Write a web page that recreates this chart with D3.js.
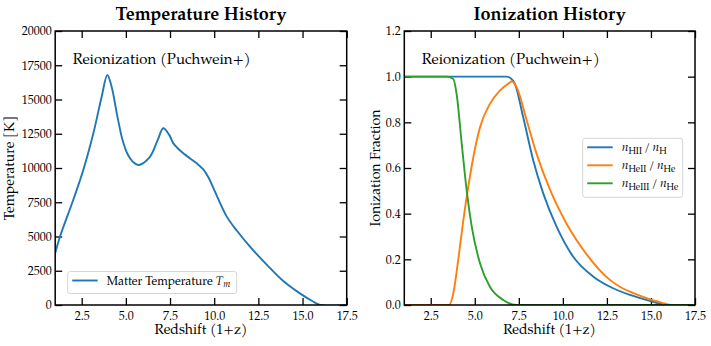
<!DOCTYPE html>
<html>
<head>
<meta charset="utf-8">
<script src="https://cdn.jsdelivr.net/npm/d3@7"></script>
<style>
  body { margin: 0; background: #fff; }
  svg { display: block; }
  text { font-family: "Palatino Linotype", Palatino, "TeX Gyre Pagella", "Liberation Serif", serif; fill: #000; }
  .tick line { stroke: #000; stroke-width: 1.3; }
</style>
</head>
<body>
<script>
const w = 711;
const h = 346;

// temperature history (redshift, kelvin)
const tempZ = [1.0, 1.27, 2.02, 2.59, 3.16, 3.63, 3.95, 4.2, 4.5, 4.8, 5.1, 5.4, 5.70, 6.36, 6.8, 7.12, 7.46, 7.69, 8.25, 9.01, 9.38, 9.7, 9.95, 10.71, 11.3, 12.0, 12.97, 13.91, 14.85, 15.5, 16.0, 17.5];
const tempT = [3800, 4985, 7660, 9850, 12530, 15200, 16790, 15900, 13900, 12100, 11000, 10450, 10220, 10820, 12040, 12900, 12400, 11800, 11070, 10340, 9900, 9250, 8550, 6450, 5400, 4300, 2950, 1750, 850, 330, 0, 0];

// ionization fractions
const hiiZ = [1.0, 6.8, 7.0, 7.28, 7.75, 8.32, 8.89, 9.65, 10.59, 11.73, 12.67, 13.81, 15.13, 15.9, 17.5];
const hiiF = [1.0, 1.0, 0.995, 0.968, 0.822, 0.633, 0.488, 0.342, 0.211, 0.124, 0.080, 0.044, 0.014, 0.0, 0.0];

const heiiZ = [1.0, 3.55, 3.78, 4.06, 4.35, 4.63, 4.92, 5.30, 5.86, 6.43, 7.0, 7.09, 7.38, 7.95, 8.51, 9.27, 10.22, 11.35, 12.67, 13.24, 14.0, 14.56, 15.2, 15.9, 16.1, 17.5];
const heiiF = [0.0, 0.0, 0.051, 0.197, 0.371, 0.517, 0.648, 0.779, 0.881, 0.939, 0.975, 0.98, 0.953, 0.808, 0.662, 0.505, 0.355, 0.222, 0.110, 0.080, 0.052, 0.036, 0.019, 0.004, 0.0, 0.0];

const heiiiZ = [1.0, 3.41, 3.78, 3.97, 4.26, 4.54, 4.83, 5.30, 5.86, 6.62, 7.38, 17.5];
const heiiiF = [1.0, 1.0, 0.99, 0.924, 0.706, 0.502, 0.342, 0.182, 0.080, 0.022, 0.0, 0.0];

const xTicks = [2.5, 5.0, 7.5, 10.0, 12.5, 15.0, 17.5];
const tempTicks = [0, 2500, 5000, 7500, 10000, 12500, 15000, 17500, 20000];
const ionTicks = [0.0, 0.2, 0.4, 0.6, 0.8, 1.0, 1.2];

const colors = ["#1f77b4", "#ff7f0e", "#2ca02c"];

const svg = d3.select("body").append("svg").attr("width", w).attr("height", h);

const plotTop = 31;
const plotBottom = 305;
const tickLen = 7;

function drawPanel(opt) {
  const xScale = d3.scaleLinear().domain([1, 17.5]).range([opt.left, opt.right]);
  const yScale = d3.scaleLinear().domain(opt.yDomain).range([plotBottom, plotTop]);
  const g = svg.append("g");

  const clipId = "clip-" + opt.id;
  g.append("clipPath").attr("id", clipId)
    .append("rect")
    .attr("x", opt.left).attr("y", plotTop - 2)
    .attr("width", opt.right - opt.left).attr("height", plotBottom - plotTop + 2);

  // axes with inward ticks
  const xAxis = d3.axisBottom(xScale).tickValues(xTicks).tickFormat(d3.format(".1f"))
    .tickSize(-tickLen).tickPadding(6);
  g.append("g").attr("transform", "translate(0," + plotBottom + ")").call(xAxis)
    .call(a => a.select(".domain").remove())
    .selectAll("text").style("font-size", "12px");

  g.append("g").attr("transform", "translate(0," + plotTop + ")")
    .call(d3.axisTop(xScale).tickValues(xTicks).tickSize(-tickLen).tickFormat(""))
    .call(a => a.select(".domain").remove());

  const yAxis = d3.axisLeft(yScale).tickValues(opt.yTicks).tickFormat(opt.yFormat)
    .tickSize(-tickLen).tickPadding(3.5);
  g.append("g").attr("transform", "translate(" + opt.left + ",0)").call(yAxis)
    .call(a => a.select(".domain").remove())
    .selectAll("text").style("font-size", "12px");

  g.append("g").attr("transform", "translate(" + opt.right + ",0)")
    .call(d3.axisRight(yScale).tickValues(opt.yTicks).tickSize(-tickLen).tickFormat(""))
    .call(a => a.select(".domain").remove());

  // lines
  const line = d3.line()
    .x(d => xScale(d[0]))
    .y(d => yScale(d[1]))
    .curve(opt.curve);

  opt.series.forEach(function (s) {
    g.append("path")
      .datum(s.z.map((z, i) => [z, s.v[i]]))
      .attr("clip-path", "url(#" + clipId + ")")
      .attr("fill", "none")
      .attr("stroke", s.color)
      .attr("stroke-width", 1.9)
      .attr("d", line);
  });

  // spines
  g.append("rect")
    .attr("x", opt.left).attr("y", plotTop)
    .attr("width", opt.right - opt.left).attr("height", plotBottom - plotTop)
    .attr("fill", "none").attr("stroke", "#000").attr("stroke-width", 1.5);

  const cx = (opt.left + opt.right) / 2;

  g.append("text").attr("x", cx).attr("y", 19.5)
    .attr("text-anchor", "middle").style("font-size", "18px").style("font-weight", "bold")
    .text(opt.title);

  g.append("text").attr("x", cx).attr("y", 334)
    .attr("text-anchor", "middle").style("font-size", "14px")
    .text("Redshift (1+z)");

  g.append("text")
    .attr("transform", "translate(" + opt.yLabelX + "," + ((plotTop + plotBottom) / 2) + ")rotate(-90)")
    .attr("text-anchor", "middle").style("font-size", "14px")
    .text(opt.yLabel);

  g.append("text").attr("x", opt.left + 17.5).attr("y", 64)
    .style("font-size", "15px")
    .text("Reionization (Puchwein+)");

  // legend
  const lg = g.append("g");
  lg.append("rect")
    .attr("x", opt.legend.x).attr("y", opt.legend.y)
    .attr("width", opt.legend.w).attr("height", opt.legend.h)
    .attr("rx", 2.5)
    .attr("fill", "#fff").attr("fill-opacity", 0.8)
    .attr("stroke", "#d6d6d6").attr("stroke-width", 1);

  opt.series.forEach(function (s, i) {
    const ly = opt.legend.y + 9 + i * 18;
    lg.append("line")
      .attr("x1", opt.legend.x + 4.5).attr("x2", opt.legend.x + 30)
      .attr("y1", ly).attr("y2", ly)
      .attr("stroke", s.color).attr("stroke-width", 1.9);
    const t = lg.append("text")
      .attr("x", opt.legend.x + 39).attr("y", ly + 4)
      .style("font-size", "12px");
    s.label(t);
  });
}

function ionLabel(upper, lower) {
  return function (t) {
    t.append("tspan").style("font-style", "italic").text("n");
    t.append("tspan").attr("dy", 3).style("font-size", "9px").text(upper);
    t.append("tspan").attr("dy", -3).text("\u2009/\u2009");
    t.append("tspan").style("font-style", "italic").text("n");
    t.append("tspan").attr("dy", 3).style("font-size", "9px").text(lower);
  };
}

drawPanel({
  id: "temp",
  left: 55.2,
  right: 346.7,
  yDomain: [0, 20000],
  yTicks: tempTicks,
  yFormat: d3.format("d"),
  curve: d3.curveCatmullRom.alpha(0.5),
  title: "Temperature History",
  yLabel: "Temperature [K]",
  yLabelX: 14,
  legend: { x: 67.7, y: 271.5, w: 169, h: 22 },
  series: [
    {
      z: tempZ, v: tempT, color: colors[0],
      label: function (t) {
        t.append("tspan").text("Matter Temperature ");
        t.append("tspan").style("font-style", "italic").text("T");
        t.append("tspan").attr("dy", 2).style("font-size", "9px").style("font-style", "italic").text("m");
      }
    }
  ]
});

drawPanel({
  id: "ion",
  left: 404.3,
  right: 695,
  yDomain: [0, 1.2],
  yTicks: ionTicks,
  yFormat: d3.format(".1f"),
  curve: d3.curveMonotoneX,
  title: "Ionization History",
  yLabel: "Ionization Fraction",
  yLabelX: 380,
  legend: { x: 582.7, y: 138.3, w: 100, h: 59 },
  series: [
    { z: hiiZ, v: hiiF, color: colors[0], label: ionLabel("HII", "H") },
    { z: heiiZ, v: heiiF, color: colors[1], label: ionLabel("HeII", "He") },
    { z: heiiiZ, v: heiiiF, color: colors[2], label: ionLabel("HeIII", "He") }
  ]
});
</script>
</body>
</html>
